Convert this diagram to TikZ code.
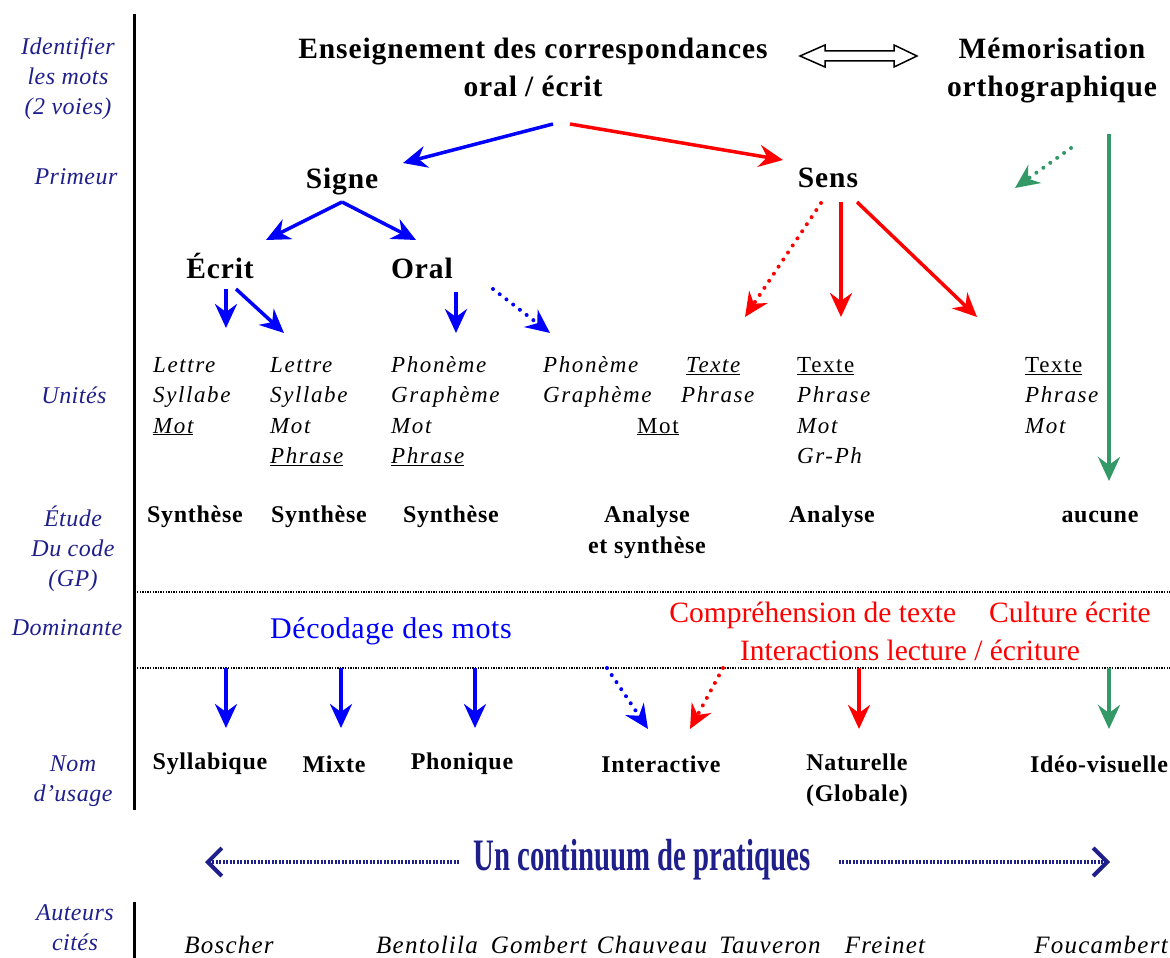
\documentclass[tikz,border=0pt]{standalone}
\usepackage{fontspec}
\setmainfont{Liberation Serif}
\usepackage{tikz}
\usetikzlibrary{arrows.meta,calc}
\definecolor{labblue}{HTML}{1F1F8C}
\definecolor{mgreen}{HTML}{339966}
\tikzset{
  lab/.style={text=labblue,align=center,font=\fontsize{24}{30}\selectfont\itshape\addfontfeatures{LetterSpace=2}},
  big/.style={align=center,font=\fontsize{29.5}{38}\selectfont\bfseries\addfontfeatures{LetterSpace=3}},
  unit/.style={anchor=north west,inner sep=0pt,align=left,font=\fontsize{23}{30.3}\selectfont\itshape\addfontfeatures{LetterSpace=7}},
  code/.style={align=center,font=\fontsize{24}{31}\selectfont\bfseries\addfontfeatures{LetterSpace=3}},
  auth/.style={font=\fontsize{25}{30}\selectfont\itshape\addfontfeatures{LetterSpace=5}},
  arr/.style={line width=3.5pt,-{Stealth[length=24pt,width=22pt,inset=8pt]}},
  dotarr/.style={arr,line cap=round,dash pattern=on 0pt off 8.5pt,line width=4pt},
  sep/.style={line width=2.5pt,dash pattern=on 1.3pt off 1.3pt},
}
\begin{document}
\begin{tikzpicture}[x=1pt,y=-1pt]
\useasboundingbox (0,0) rectangle (1170,958);
% left column
\draw[line width=3pt] (134,14) -- (134,810);
\draw[line width=3pt] (134,902) -- (134,958);
\node (l1) [lab] at (68,79) {Identifier\\les mots\\(2 voies)};
\node (l2) [lab] at (76,177) {Primeur};
\node (l3) [lab] at (74,395) {Unités};
\node (l4) [lab] at (73,549) {Étude\\Du code\\(GP)};
\node (l5) [lab] at (67,628) {Dominante};
\node (l6) [lab] at (73,781) {Nom\\d’usage};
\node (l7) [lab,inner sep=1pt] at (75,928) {Auteurs\\cités};
%
\node (title) [big] at (533,67) {Enseignement des correspondances\\oral / écrit};
\node (memo) [big] at (1052,71) {Mémorisation\\orthographique};
\draw[line width=1.5pt,fill=white] (800,56) -- (825,45) -- (825,51) -- (894,51) -- (894,45) -- (917,56)
  -- (894,67) -- (894,61) -- (825,61) -- (825,67) -- cycle;
\node (signe) [big] at (342,182) {Signe};
\node (sens) [big] at (828,178) {Sens};
\node (ecrit) [big] at (220,266) {Écrit};
\node (oral) [big] at (422,268) {Oral};
%
\node (u1) [unit] at (153,351) {\strut Lettre\\Syllabe\\\underline{Mot}};
\node (u2) [unit] at (270,351) {\strut Lettre\\Syllabe\\Mot\\\underline{Phrase}};
\node (u3) [unit] at (391,351) {\strut Phonème\\Graphème\\Mot\\\underline{Phrase}};
\node (u4) [unit] at (543,351) {\strut Phonème\\Graphème\\\hspace*{94pt}\upshape\underline{Mot}};
\node (u5) [unit] at (681,351) {\strut\hspace*{5pt}\underline{Texte}\\Phrase};
\node (u6) [unit] at (797,351) {\strut\upshape\underline{Texte}\\\itshape Phrase\\Mot\\Gr-Ph};
\node (u7) [unit] at (1025,351) {\strut\upshape\underline{Texte}\\Phrase\\\itshape Mot};
%
\node (e1) [code] at (195,517) {Synthèse};
\node (e2) [code] at (319,517) {Synthèse};
\node (e3) [code] at (451,517) {Synthèse};
\node (e4) [code] at (647,532) {Analyse\\et synthèse};
\node (e5) [code] at (832,517) {Analyse};
\node (e6) [code] at (1100,517) {aucune};
%
\draw[sep] (137,592) -- (1170,592);
\draw[sep] (137,668) -- (1170,668);
\node (d1) [text=blue,font=\fontsize{30}{38}\selectfont\addfontfeatures{LetterSpace=2}] at (391,631) {Décodage des mots};
\node (d2) [text=red,align=center,font=\fontsize{29.5}{38}\selectfont] at (910,631)
  {Compréhension de texte\hspace{33pt}Culture écrite\\Interactions lecture / écriture};
%
\node (n1) [code] at (210,764) {Syllabique};
\node (n2) [code] at (334,764) {Mixte};
\node (n3) [code] at (462,764) {Phonique};
\node (n4) [code] at (661,764) {Interactive};
\node (n5) [code] at (857,780) {Naturelle\\(Globale)};
\node (n6) [code] at (1099,764) {Idéo-visuelle};
%
\node (cont) [text=labblue] at (642,860) {\scalebox{0.64}[1]{\fontsize{45}{45}\selectfont\bfseries Un continuum de pratiques}};
\coordinate (cl) at (205,862);
\coordinate (cr) at (1110,862);
\draw[labblue,line width=4pt,dash pattern=on 2pt off 1.5pt,shorten <=11pt,-{Straight Barb[length=14pt,width=28pt,line width=4pt]}] (cont.west |- cl) -- (cl);
\draw[labblue,line width=4pt,dash pattern=on 2pt off 1.5pt,shorten <=25pt,-{Straight Barb[length=14pt,width=28pt,line width=4pt]}] (cont.east |- cr) -- (cr);
%
\node (a1) [auth] at (229,945) {Boscher};
\node (a2) [auth] at (427,945) {Bentolila};
\node (a3) [auth] at (539,945) {Gombert};
\node (a4) [auth] at (652,945) {Chauveau};
\node (a5) [auth] at (770,945) {Tauveron};
\node (a6) [auth] at (885,945) {Freinet};
\node (a7) [auth] at (1101,945) {Foucambert};
%
\draw[arr,blue] ($(title)+(20,57)$) -- ($(signe)+(61,-19)$);
\draw[arr,red] ($(title)+(37,57)$) -- ($(sens)+(-45,-18)$);
\draw[dotarr,mgreen] ($(memo)+(19,77)$) -- ($(memo)+(-37,117)$);
\draw[arr,mgreen] ($(memo)+(57,63)$) -- ($(e6)+(9,-36)$);
\draw[arr,blue] ($(signe)+(0,20)$) -- ($(ecrit)+(46,-26)$);
\draw[arr,blue] ($(signe)+(0,20)$) -- ($(oral)+(-6,-28)$);
\draw[arr,blue] ($(ecrit)+(6,23)$) -- ($(u1.north west)+(73,-23)$);
\draw[arr,blue] ($(ecrit)+(16,23)$) -- ($(u2.north west)+(14,-18)$);
\draw[arr,blue] ($(oral)+(34,24)$) -- ($(u3.north west)+(65,-18)$);
\draw[dotarr,blue] ($(oral)+(71,21)$) -- ($(u4.north west)+(7,-18)$);
\draw[dotarr,red] ($(sens)+(-7,25)$) -- ($(u5.north west)+(64,-34)$);
\draw[arr,red] ($(sens)+(13,24)$) -- ($(u6.north west)+(44,-34)$);
\draw[arr,red] ($(sens)+(29,24)$) -- ($(u7.north west)+(-48,-34)$);
%
\draw[arr,blue] ($(n1)+(16,-96)$) -- ($(n1)+(16,-36)$);
\draw[arr,blue] ($(n2)+(7,-96)$) -- ($(n2)+(7,-36)$);
\draw[arr,blue] ($(n3)+(13,-96)$) -- ($(n3)+(13,-36)$);
\draw[dotarr,blue] ($(n4)+(-54,-96)$) -- ($(n4)+(-13,-35)$);
\draw[dotarr,red] ($(n4)+(62,-96)$) -- ($(n4)+(29,-35)$);
\draw[arr,red] ($(n5)+(2,-112)$) -- ($(n5)+(2,-51)$);
\draw[arr,mgreen] ($(n6)+(10,-96)$) -- ($(n6)+(10,-35)$);
\end{tikzpicture}
\end{document}
